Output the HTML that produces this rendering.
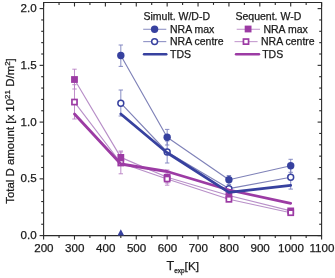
<!DOCTYPE html><html><head><meta charset="utf-8"><style>html,body{margin:0;padding:0;background:#fff;}svg{display:block;will-change:transform;}text{font-family:"Liberation Sans",sans-serif;fill:#1a1a1a;stroke:#1a1a1a;stroke-width:0.25px;}</style></head><body>
<svg width="335" height="278" viewBox="0 0 335 278">
<rect width="335" height="278" fill="#fff"/>
<g stroke="#2b2b2b" stroke-width="1.1" fill="none" shape-rendering="auto">
<path d="M43.6,2.5 L321.6,2.5 L321.6,235.6 L43.6,235.6 Z"/>
<path d="M43.60,235.6 V239.60"/>
<path d="M43.60,2.5 V6.50"/>
<path d="M59.04,235.6 V238.00"/>
<path d="M59.04,2.5 V4.90"/>
<path d="M74.49,235.6 V239.60"/>
<path d="M74.49,2.5 V6.50"/>
<path d="M89.93,235.6 V238.00"/>
<path d="M89.93,2.5 V4.90"/>
<path d="M105.38,235.6 V239.60"/>
<path d="M105.38,2.5 V6.50"/>
<path d="M120.82,235.6 V238.00"/>
<path d="M120.82,2.5 V4.90"/>
<path d="M136.27,235.6 V239.60"/>
<path d="M136.27,2.5 V6.50"/>
<path d="M151.71,235.6 V238.00"/>
<path d="M151.71,2.5 V4.90"/>
<path d="M167.16,235.6 V239.60"/>
<path d="M167.16,2.5 V6.50"/>
<path d="M182.60,235.6 V238.00"/>
<path d="M182.60,2.5 V4.90"/>
<path d="M198.04,235.6 V239.60"/>
<path d="M198.04,2.5 V6.50"/>
<path d="M213.49,235.6 V238.00"/>
<path d="M213.49,2.5 V4.90"/>
<path d="M228.93,235.6 V239.60"/>
<path d="M228.93,2.5 V6.50"/>
<path d="M244.38,235.6 V238.00"/>
<path d="M244.38,2.5 V4.90"/>
<path d="M259.82,235.6 V239.60"/>
<path d="M259.82,2.5 V6.50"/>
<path d="M275.27,235.6 V238.00"/>
<path d="M275.27,2.5 V4.90"/>
<path d="M290.71,235.6 V239.60"/>
<path d="M290.71,2.5 V6.50"/>
<path d="M306.16,235.6 V238.00"/>
<path d="M306.16,2.5 V4.90"/>
<path d="M321.60,235.6 V239.60"/>
<path d="M321.60,2.5 V6.50"/>
<path d="M43.6,235.60 H39.60"/>
<path d="M321.6,235.60 H317.60"/>
<path d="M43.6,224.25 H41.20"/>
<path d="M321.6,224.25 H319.20"/>
<path d="M43.6,212.90 H41.20"/>
<path d="M321.6,212.90 H319.20"/>
<path d="M43.6,201.55 H41.20"/>
<path d="M321.6,201.55 H319.20"/>
<path d="M43.6,190.20 H41.20"/>
<path d="M321.6,190.20 H319.20"/>
<path d="M43.6,178.85 H39.60"/>
<path d="M321.6,178.85 H317.60"/>
<path d="M43.6,167.50 H41.20"/>
<path d="M321.6,167.50 H319.20"/>
<path d="M43.6,156.15 H41.20"/>
<path d="M321.6,156.15 H319.20"/>
<path d="M43.6,144.80 H41.20"/>
<path d="M321.6,144.80 H319.20"/>
<path d="M43.6,133.45 H41.20"/>
<path d="M321.6,133.45 H319.20"/>
<path d="M43.6,122.10 H39.60"/>
<path d="M321.6,122.10 H317.60"/>
<path d="M43.6,110.75 H41.20"/>
<path d="M321.6,110.75 H319.20"/>
<path d="M43.6,99.40 H41.20"/>
<path d="M321.6,99.40 H319.20"/>
<path d="M43.6,88.05 H41.20"/>
<path d="M321.6,88.05 H319.20"/>
<path d="M43.6,76.70 H41.20"/>
<path d="M321.6,76.70 H319.20"/>
<path d="M43.6,65.35 H39.60"/>
<path d="M321.6,65.35 H317.60"/>
<path d="M43.6,54.00 H41.20"/>
<path d="M321.6,54.00 H319.20"/>
<path d="M43.6,42.65 H41.20"/>
<path d="M321.6,42.65 H319.20"/>
<path d="M43.6,31.30 H41.20"/>
<path d="M321.6,31.30 H319.20"/>
<path d="M43.6,19.95 H41.20"/>
<path d="M321.6,19.95 H319.20"/>
<path d="M43.6,8.60 H39.60"/>
<path d="M321.6,8.60 H317.60"/>
</g>
<text x="43.90" y="252.2" font-size="11.6" text-anchor="middle">200</text>
<text x="74.79" y="252.2" font-size="11.6" text-anchor="middle">300</text>
<text x="105.68" y="252.2" font-size="11.6" text-anchor="middle">400</text>
<text x="136.57" y="252.2" font-size="11.6" text-anchor="middle">500</text>
<text x="167.46" y="252.2" font-size="11.6" text-anchor="middle">600</text>
<text x="198.34" y="252.2" font-size="11.6" text-anchor="middle">700</text>
<text x="229.23" y="252.2" font-size="11.6" text-anchor="middle">800</text>
<text x="260.12" y="252.2" font-size="11.6" text-anchor="middle">900</text>
<text x="291.01" y="252.2" font-size="11.6" text-anchor="middle">1000</text>
<text x="321.90" y="252.2" font-size="11.6" text-anchor="middle">1100</text>
<text x="36.6" y="239.20" font-size="11.6" text-anchor="end">0.0</text>
<text x="36.6" y="182.45" font-size="11.6" text-anchor="end">0.5</text>
<text x="36.6" y="125.70" font-size="11.6" text-anchor="end">1.0</text>
<text x="36.6" y="68.95" font-size="11.6" text-anchor="end">1.5</text>
<text x="36.6" y="12.20" font-size="11.6" text-anchor="end">2.0</text>
<text x="166.6" y="270.2" font-size="12.6">T<tspan font-size="6.4" dy="2.9">exp</tspan><tspan dy="-2.9" font-size="11.8">[K]</tspan></text>
<text transform="translate(14.2,203.8) rotate(-90)" font-size="11.45">Total D amount [x 10<tspan font-size="8" dy="-4.5">21</tspan><tspan dy="4.5"> D/m</tspan><tspan font-size="8" dy="-4.5">2</tspan><tspan dy="4.5">]</tspan></text>
<path d="M74.49,69.20 V89.00 M72.29,69.20 H76.69 M72.29,89.00 H76.69" stroke="#b880c4" stroke-width="0.9" fill="none"/>
<path d="M74.49,84.70 V119.00 M72.29,84.70 H76.69 M72.29,119.00 H76.69" stroke="#b880c4" stroke-width="0.9" fill="none"/>
<path d="M120.82,151.00 V162.00 M118.62,151.00 H123.02 M118.62,162.00 H123.02" stroke="#b880c4" stroke-width="0.9" fill="none"/>
<path d="M120.82,152.00 V173.80 M118.62,152.00 H123.02 M118.62,173.80 H123.02" stroke="#b880c4" stroke-width="0.9" fill="none"/>
<path d="M167.16,170.00 V183.00 M164.96,170.00 H169.36 M164.96,183.00 H169.36" stroke="#b880c4" stroke-width="0.9" fill="none"/>
<path d="M167.16,174.00 V185.20 M164.96,174.00 H169.36 M164.96,185.20 H169.36" stroke="#b880c4" stroke-width="0.9" fill="none"/>
<path d="M120.82,45.00 V66.40 M118.62,45.00 H123.02 M118.62,66.40 H123.02" stroke="#7a80bd" stroke-width="0.9" fill="none"/>
<path d="M120.82,90.00 V116.00 M118.62,90.00 H123.02 M118.62,116.00 H123.02" stroke="#7a80bd" stroke-width="0.9" fill="none"/>
<path d="M167.16,129.40 V145.00 M164.96,129.40 H169.36 M164.96,145.00 H169.36" stroke="#7a80bd" stroke-width="0.9" fill="none"/>
<path d="M167.16,141.00 V163.00 M164.96,141.00 H169.36 M164.96,163.00 H169.36" stroke="#7a80bd" stroke-width="0.9" fill="none"/>
<path d="M290.71,159.30 V172.30 M288.51,159.30 H292.91 M288.51,172.30 H292.91" stroke="#7a80bd" stroke-width="0.9" fill="none"/>
<path d="M228.93,175.50 V184.50 M226.73,175.50 H231.13 M226.73,184.50 H231.13" stroke="#7a80bd" stroke-width="0.9" fill="none"/>
<path d="M290.71,165.50 V189.10 M288.51,165.50 H292.91 M288.51,189.10 H292.91" stroke="#7a80bd" stroke-width="0.9" fill="none"/>
<path d="M120.82,55.50 L167.16,137.30 L228.93,179.80 L290.71,165.80" stroke="#7f82b8" stroke-width="1.15" fill="none" stroke-linejoin="round" stroke-linecap="round"/>
<path d="M120.82,103.20 L167.16,152.00 L228.93,188.60 L290.71,177.30" stroke="#7f82b8" stroke-width="1.15" fill="none" stroke-linejoin="round" stroke-linecap="round"/>
<path d="M74.49,79.50 L120.82,157.40 L167.16,177.30 L228.93,195.50 L290.71,210.90" stroke="#b88fc8" stroke-width="1.15" fill="none" stroke-linejoin="round" stroke-linecap="round"/>
<path d="M74.49,102.05 L120.82,163.00 L167.16,179.00 L228.93,199.30 L290.71,212.70" stroke="#b88fc8" stroke-width="1.15" fill="none" stroke-linejoin="round" stroke-linecap="round"/>
<circle cx="120.82" cy="55.50" r="3.7" fill="#37419f"/>
<circle cx="167.16" cy="137.30" r="3.7" fill="#37419f"/>
<circle cx="228.93" cy="179.80" r="3.7" fill="#37419f"/>
<circle cx="290.71" cy="165.80" r="3.7" fill="#37419f"/>
<circle cx="120.82" cy="103.20" r="2.95" fill="#fff" stroke="#37419f" stroke-width="1.5"/>
<circle cx="167.16" cy="152.00" r="2.95" fill="#fff" stroke="#37419f" stroke-width="1.5"/>
<circle cx="228.93" cy="188.60" r="2.95" fill="#fff" stroke="#37419f" stroke-width="1.5"/>
<circle cx="290.71" cy="177.30" r="2.95" fill="#fff" stroke="#37419f" stroke-width="1.5"/>
<rect x="71.09" y="76.10" width="6.8" height="6.8" fill="#9c3ba4"/>
<rect x="117.42" y="154.00" width="6.8" height="6.8" fill="#9c3ba4"/>
<rect x="163.76" y="173.90" width="6.8" height="6.8" fill="#9c3ba4"/>
<rect x="225.53" y="192.10" width="6.8" height="6.8" fill="#9c3ba4"/>
<rect x="287.31" y="207.50" width="6.8" height="6.8" fill="#9c3ba4"/>
<rect x="71.94" y="99.50" width="5.10" height="5.10" fill="#fff" stroke="#9c3ba4" stroke-width="1.7"/>
<rect x="118.27" y="160.45" width="5.10" height="5.10" fill="#fff" stroke="#9c3ba4" stroke-width="1.7"/>
<rect x="164.61" y="176.45" width="5.10" height="5.10" fill="#fff" stroke="#9c3ba4" stroke-width="1.7"/>
<rect x="226.38" y="196.75" width="5.10" height="5.10" fill="#fff" stroke="#9c3ba4" stroke-width="1.7"/>
<rect x="288.16" y="210.15" width="5.10" height="5.10" fill="#fff" stroke="#9c3ba4" stroke-width="1.7"/>
<path d="M74.49,114.00 L120.82,164.00 L167.16,171.50 L228.93,190.00 L290.71,203.30" stroke="#9c3ba4" stroke-width="2.8" fill="none" stroke-linejoin="round" stroke-linecap="round"/>
<path d="M120.82,114.00 L167.16,152.80 L228.93,192.40 L290.71,185.30" stroke="#37419f" stroke-width="2.8" fill="none" stroke-linejoin="round" stroke-linecap="round"/>
<path d="M120.82,229.3 L124.12,235.4 L117.52,235.4 Z" fill="#37419f"/>
<text x="143.5" y="19.6" font-size="10.5">Simult. W/D-D</text>
<text x="235.5" y="19.6" font-size="10.5">Sequent. W-D</text>
<path d="M143.2,29.3 H166.3" stroke="#9598c8" stroke-width="1.15"/>
<circle cx="154.60" cy="29.30" r="3.7" fill="#37419f"/>
<path d="M143.2,41.6 H166.3" stroke="#9598c8" stroke-width="1.15"/>
<circle cx="154.60" cy="41.60" r="2.95" fill="#fff" stroke="#37419f" stroke-width="1.5"/>
<path d="M144,54.2 H166.3" stroke="#37419f" stroke-width="2.4" stroke-linecap="round"/>
<text x="170" y="33.0" font-size="10.5">NRA max</text>
<text x="170" y="45.300000000000004" font-size="10.5">NRA centre</text>
<text x="170" y="57.900000000000006" font-size="10.5">TDS</text>
<path d="M236.7,29.3 H260" stroke="#c8a2d2" stroke-width="1.15"/>
<rect x="244.70" y="25.60" width="6.8" height="6.8" fill="#9c3ba4"/>
<path d="M234.5,41.6 H257.6" stroke="#c8a2d2" stroke-width="1.15"/>
<rect x="243.45" y="39.05" width="5.10" height="5.10" fill="#fff" stroke="#9c3ba4" stroke-width="1.7"/>
<path d="M236,54.2 H259" stroke="#9c3ba4" stroke-width="2.4" stroke-linecap="round"/>
<text x="263.4" y="33.0" font-size="10.5">NRA max</text>
<text x="261" y="45.300000000000004" font-size="10.5">NRA centre</text>
<text x="262.2" y="57.900000000000006" font-size="10.5">TDS</text>
</svg></body></html>
